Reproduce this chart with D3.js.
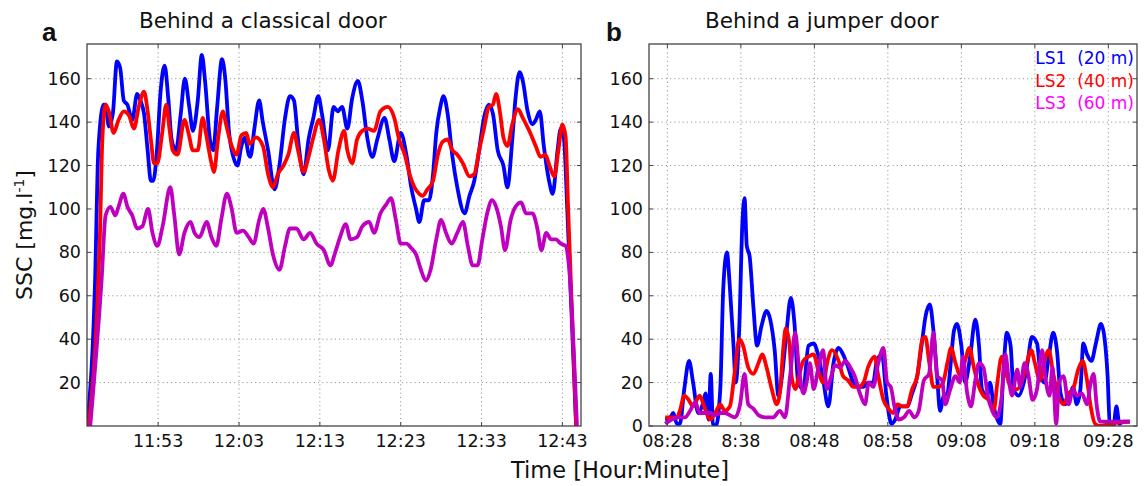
<!DOCTYPE html>
<html>
<head>
<meta charset="utf-8">
<script src="https://cdn.jsdelivr.net/npm/d3@7"></script>
<style>
  body { margin: 0; background: #fff; }
  svg { font-family: "DejaVu Sans", sans-serif; }
  text { white-space: pre; }
</style>
</head>
<body>
<svg id="chart" width="1144" height="486"></svg>
<script>
// minutes after the first labelled tick, SSC value
const tickLabelsA = ["11:53", "12:03", "12:13", "12:23", "12:33", "12:43"];
const tickLabelsB = ["08:28", "8:38", "08:48", "08:58", "09:08", "09:18", "09:28"];
const yTicksA = [20, 40, 60, 80, 100, 120, 140, 160];
const yTicksB = [0, 20, 40, 60, 80, 100, 120, 140, 160];

const classicLS1 = [[-8.8,0],[-7.8,67],[-7.4,127],[-6.75,148],[-6.5,148],[-6.1,138],[-5.6,144],[-5.1,168],[-4.7,165],[-4.25,150],[-3.8,148],[-3.2,141],[-2.6,153],[-2.2,150],[-1.75,144],[-1.3,127],[-0.9,113],[-0.6,113],[-0.15,127],[0.3,154],[0.8,166],[1.25,151],[1.67,132],[2.2,127],[2.8,144],[3.3,160],[3.85,147],[4.3,136],[4.9,150],[5.4,171],[5.8,159],[6.4,132],[6.8,127],[7.3,147],[7.9,169],[8.3,160],[8.75,136],[9.3,124],[9.8,120],[10.3,129],[10.75,133],[11.2,125],[11.4,124],[11.9,137],[12.5,150],[12.9,141],[13.6,127],[14.4,109],[15,120],[15.7,142],[16.3,152],[16.8,150],[17.3,132],[18,116],[18.6,132],[19.2,142],[19.8,152],[20.25,144],[21,127],[21.7,147],[22.2,145],[22.75,147],[23.4,137],[24,151],[24.7,159],[25.25,150],[25.9,132],[26.5,124],[27.1,132],[28,142],[28.6,132],[29.2,122],[30,135],[30.7,125],[31.3,110],[31.9,100],[32.3,94],[32.9,104],[33.5,104],[34,116],[34.4,135],[34.9,147],[35.3,152],[35.8,144],[36.4,124],[37,110],[37.9,98],[38.5,106],[39.1,113],[39.7,127],[40.3,142],[40.9,148],[41.4,144],[42,127],[42.7,120],[43.2,110],[43.8,132],[44.2,151],[44.7,163],[45.1,159],[45.7,145],[46.3,139],[46.7,141],[47.2,145],[47.7,129],[48.4,112],[48.8,107],[49.4,127],[49.8,137],[50.2,132],[50.6,100],[51.7,0]];
const classicLS2 = [[-8.6,0],[-7.4,67],[-7.2,88],[-6.9,132],[-6.5,148],[-6.1,145],[-5.5,135],[-4.9,141],[-4.25,145],[-3.6,143],[-3,137],[-2.4,147],[-1.75,154],[-1.3,145],[-0.9,132],[-0.5,121],[-0.1,121],[0.5,135],[1,148],[1.4,137],[1.8,127],[2.4,125],[3.25,141],[3.75,135],[4.3,127],[4.9,127],[5.5,142],[5.9,135],[6.6,121],[6.9,117],[7.4,132],[8,145],[8.4,139],[9.1,129],[9.7,125],[10.3,134],[10.9,135],[11.3,130],[12.1,133],[12.96,129],[13.6,116],[14.2,110],[14.8,116],[15.5,120],[16.1,125],[16.8,135],[17.3,127],[18,117],[18.6,124],[19.2,133],[19.9,141],[20.5,132],[21.1,118],[21.6,113],[22.3,127],[23,136],[23.4,127],[24,121],[24.6,132],[25.25,136],[25.9,137],[26.7,136],[27.5,145],[28.4,147],[29.2,142],[29.8,132],[30.5,125],[31.1,116],[31.7,110],[32.3,107],[32.7,106],[33.3,109],[34,113],[34.6,125],[35.2,131],[35.8,132],[36.4,127],[37,125],[37.7,121],[38.5,115],[39.1,116],[39.7,127],[40.3,137],[40.9,147],[41.4,148],[41.8,153],[42.3,144],[42.7,133],[43.2,129],[43.8,139],[44.5,146],[45.1,142],[45.9,136],[46.7,129],[47.3,124],[47.9,125],[48.4,120],[49,115],[49.5,127],[50,139],[50.4,133],[50.7,101],[51,71],[51.7,0]];
const classicLS3 = [[-8.4,0],[-7.0,67],[-6.5,97],[-5.9,101],[-5.3,97],[-4.9,101],[-4.3,107],[-3.8,101],[-3.2,97],[-2.6,91],[-1.95,92],[-1.25,100],[-0.7,89],[-0.1,83],[0.55,92],[1.5,110],[2,97],[2.6,79],[3.25,89],[4,94],[4.5,89],[5.1,87],[6,94],[6.6,87],[7.2,83],[7.8,95],[8.5,107],[9.1,100],[9.7,89],[10.5,90],[11.2,87],[11.8,84],[12.5,95],[13,100],[13.6,91],[14.2,79],[15,72],[15.7,83],[16.3,91],[17.1,91],[18,86],[18.8,89],[19.6,84],[20.5,81],[21.3,74],[21.9,80],[22.5,87],[23.2,93],[23.8,86],[24.6,87],[25.25,92],[26.1,94],[26.7,89],[27.5,98],[28.2,102],[28.8,105],[29.4,95],[30,84],[30.7,84],[31.3,82],[31.9,79],[32.5,72],[33.1,67],[33.7,72],[34.4,86],[35,95],[35.6,89],[36.3,84],[37,89],[37.7,94],[38.3,83],[38.9,74],[39.5,74],[40.1,86],[40.7,98],[41.3,104],[41.8,101],[42.4,92],[42.9,81],[43.6,95],[44.2,101],[44.9,103],[45.5,98],[46.3,98],[46.9,91],[47.4,81],[48,89],[48.6,86],[49.2,86],[49.8,84],[50.4,83],[50.8,74],[51.8,0]];

const jumperLS1 = [[-0.3,3],[0.4,4],[0.8,6],[1.3,1],[1.7,1],[2.3,17],[2.95,30],[3.5,20],[4.2,6],[4.8,10],[5.2,15],[5.6,3],[5.9,24],[6.2,1],[6.6,0],[7.2,17],[7.6,63],[8.1,80],[8.5,64],[9,37],[9.3,20],[9.8,47],[10.2,93],[10.5,105],[10.8,83],[11.2,78],[11.7,55],[12.2,37],[12.8,46],[13.5,53],[14,49],[14.6,35],[15.1,14],[15.6,23],[16.2,43],[16.8,59],[17.3,47],[17.8,20],[18.5,17],[19.2,37],[19.9,38],[20.5,33],[21.2,21],[21.9,9],[22.6,29],[23.3,36],[23.9,33],[24.6,27],[25.3,20],[26,18],[26.7,18],[27.3,20],[28,20],[28.5,30],[29.2,33],[29.8,14],[30.5,1],[31,3],[31.7,9],[32.6,9],[33.3,15],[34,23],[34.7,40],[35.1,50],[35.7,56],[36.2,44],[36.7,23],[37.1,7],[37.6,14],[38.1,15],[38.5,27],[39,44],[39.4,47],[40,37],[40.5,20],[41.2,32],[41.9,49],[42.4,37],[42.8,17],[43.5,14],[43.9,20],[44.4,9],[44.9,3],[45.3,1],[45.7,24],[46.2,43],[46.7,37],[47.1,17],[47.8,14],[48.5,20],[49,29],[49.6,41],[50.3,38],[50.8,23],[51.3,20],[51.9,32],[52.5,43],[53,35],[53.5,15],[54.1,10],[54.8,14],[55.2,18],[55.7,10],[56.2,17],[56.6,38],[57.1,33],[57.7,30],[58.3,38],[59,47],[59.5,40],[59.9,23],[60.2,1],[60.7,0],[61.1,9],[61.5,1],[62,2],[62.9,2]];
const jumperLS2 = [[-0.3,4],[0.6,4],[1.3,4],[1.7,7],[2.3,14],[2.9,12],[3.5,9],[4,12],[4.4,14],[5,9],[5.8,3],[6.5,6],[7.2,10],[7.8,7],[8.5,9],[9.1,23],[9.8,40],[10.3,37],[11,27],[11.7,24],[12.4,29],[12.9,33],[13.5,27],[14.2,17],[14.9,10],[15.3,15],[15.8,37],[16.1,45],[16.6,38],[16.9,23],[17.4,17],[17.9,23],[18.5,30],[19.2,32],[19.9,33],[20.5,26],[21.2,20],[21.8,30],[22.4,35],[23.3,30],[23.9,23],[24.6,21],[25.3,18],[26,18],[26.7,20],[27.3,27],[28.2,32],[28.7,23],[29.4,12],[30.1,8],[30.7,6],[31.3,10],[32,9],[32.6,9],[33.3,17],[34,23],[34.7,40],[35.1,41],[35.6,30],[36.2,18],[36.9,18],[37.5,20],[38.1,29],[38.6,36],[39.2,29],[39.9,23],[40.5,30],[41.1,36],[41.7,27],[42.4,18],[43,14],[43.7,12],[44.4,7],[44.9,20],[45.5,32],[46.2,23],[46.9,17],[47.6,17],[48.2,20],[48.9,29],[49.5,35],[50,29],[50.7,21],[51.3,30],[51.9,35],[52.5,24],[53.2,14],[53.9,10],[54.6,15],[55.2,17],[55.9,26],[56.5,30],[57.1,21],[57.6,9],[58.2,1],[58.9,0],[60.2,1],[62.9,2]];
const jumperLS3 = [[-0.3,1],[0.6,3],[1.5,4],[2.4,4],[3.1,7],[3.8,11],[4.4,6],[5.1,6],[5.8,6],[6.5,5],[7.2,6],[7.8,6],[8.5,5],[9.2,4],[9.9,10],[10.5,24],[11,10],[11.7,8],[12.4,5],[13.3,4],[14.4,4],[15.3,7],[16,4],[16.7,23],[17.4,43],[17.9,27],[18.5,15],[19,21],[19.4,29],[19.9,17],[20.5,26],[21.2,35],[21.7,17],[22.3,23],[22.8,28],[23.5,27],[24.2,30],[24.9,27],[25.5,23],[26.2,15],[26.9,10],[27.4,20],[28,18],[28.7,29],[29.4,36],[29.9,20],[30.4,18],[30.9,9],[31.5,3],[32.2,4],[32.9,7],[33.6,4],[34.2,7],[34.9,21],[35.6,24],[36.2,43],[36.7,23],[37.4,21],[37.8,10],[38.5,17],[39.2,23],[39.8,20],[40.2,32],[40.8,15],[41.3,9],[41.9,21],[42.4,29],[43,27],[43.6,14],[44.2,7],[44.8,4],[45.5,14],[46,33],[46.4,23],[46.9,14],[47.6,26],[48,18],[48.6,29],[49.1,24],[49.7,12],[50.3,17],[51,35],[51.4,23],[52,14],[52.4,27],[52.9,1],[53.3,20],[53.9,23],[54.6,10],[55.2,17],[55.7,14],[56.4,15],[57.1,10],[57.5,18],[58,24],[58.4,10],[58.9,2],[60.2,2],[62.9,2]];

const legendLabels = ["LS1  (20 m)", "LS2  (40 m)", "LS3  (60 m)"];
const lineColors = ["#0000ff", "#ff0000", "#bf00bf"];
const legendColors = ["#0000ff", "#ff0000", "#ff00ff"];

const svg = d3.select("#chart");
const plotTop = 44, plotBottom = 426;

const panels = [
  { id: "a", title: "Behind a classical door", x0: 87, x1: 581, dom: [-8.8, 52.3],
    ticks: tickLabelsA, yTicks: yTicksA, series: [classicLS1, classicLS2, classicLS3],
    titleX: 139, letterX: 42, legend: false },
  { id: "b", title: "Behind a jumper door", x0: 649, x1: 1137, dom: [-2.5, 63.9],
    ticks: tickLabelsB, yTicks: yTicksB, series: [jumperLS1, jumperLS2, jumperLS3],
    titleX: 705, letterX: 606, legend: true }
];

panels.forEach((p, pi) => {
  const x = d3.scaleLinear().domain(p.dom).range([p.x0, p.x1]);
  const y = d3.scaleLinear().domain([0, 176]).range([plotBottom, plotTop]);
  const tickVals = p.ticks.map((d, i) => i * 10);
  const g = svg.append("g");

  g.append("clipPath").attr("id", "clip" + pi)
    .append("rect").attr("x", p.x0).attr("y", plotTop)
    .attr("width", p.x1 - p.x0).attr("height", plotBottom - plotTop);

  // grid
  g.append("g").selectAll("line").data(tickVals).enter().append("line")
    .attr("x1", d => x(d)).attr("x2", d => x(d)).attr("y1", plotTop).attr("y2", plotBottom)
    .attr("stroke", "#9a9a9a").attr("stroke-width", 1).attr("stroke-dasharray", "1.2,3");
  g.append("g").selectAll("line").data(p.yTicks.filter(d => d > 0)).enter().append("line")
    .attr("x1", p.x0).attr("x2", p.x1).attr("y1", d => y(d)).attr("y2", d => y(d))
    .attr("stroke", "#9a9a9a").attr("stroke-width", 1).attr("stroke-dasharray", "1.2,3");

  // lines
  const line = d3.line().x(d => x(d[0])).y(d => y(d[1])).curve(d3.curveMonotoneX);
  g.append("g").attr("clip-path", `url(#clip${pi})`)
    .selectAll("path").data(p.series).enter().append("path")
    .attr("d", line).attr("fill", "none")
    .attr("stroke", (d, i) => lineColors[i]).attr("stroke-width", 3.8)
    .attr("stroke-linejoin", "round");

  // frame
  g.append("rect").attr("x", p.x0).attr("y", plotTop)
    .attr("width", p.x1 - p.x0).attr("height", plotBottom - plotTop)
    .attr("fill", "none").attr("stroke", "#444").attr("stroke-width", 1.3);

  // inward ticks
  const tk = g.append("g").attr("stroke", "#444").attr("stroke-width", 1);
  tickVals.forEach(v => {
    tk.append("line").attr("x1", x(v)).attr("x2", x(v)).attr("y1", plotBottom).attr("y2", plotBottom - 4);
    tk.append("line").attr("x1", x(v)).attr("x2", x(v)).attr("y1", plotTop).attr("y2", plotTop + 4);
  });
  p.yTicks.forEach(v => {
    tk.append("line").attr("x1", p.x0).attr("x2", p.x0 + 4).attr("y1", y(v)).attr("y2", y(v));
    tk.append("line").attr("x1", p.x1).attr("x2", p.x1 - 4).attr("y1", y(v)).attr("y2", y(v));
  });

  // tick labels
  g.append("g").selectAll("text").data(p.ticks).enter().append("text")
    .attr("x", (d, i) => x(i * 10)).attr("y", plotBottom + 21)
    .attr("text-anchor", "middle").attr("font-size", 17.5).attr("fill", "#111")
    .text(d => d);
  g.append("g").selectAll("text").data(p.yTicks).enter().append("text")
    .attr("x", p.x0 - 6).attr("y", d => y(d) + 6)
    .attr("text-anchor", "end").attr("font-size", 17.5).attr("fill", "#111")
    .text(d => d);

  // titles
  g.append("text").attr("x", p.titleX).attr("y", 28)
    .attr("font-size", 21.5).attr("fill", "#111").text(p.title);
  g.append("text").attr("x", p.letterX).attr("y", 41)
    .attr("font-family", "Liberation Sans, Arial, sans-serif")
    .attr("font-weight", "bold").attr("font-size", 26).attr("fill", "#111").text(p.id);

  if (p.legend) {
    g.append("g").selectAll("text").data(legendLabels).enter().append("text")
      .attr("x", p.x1 - 3).attr("y", (d, i) => 64 + i * 22.5)
      .attr("text-anchor", "end").attr("font-size", 17)
      .attr("fill", (d, i) => legendColors[i]).text(d => d);
  }
});

// axis labels
const yl = svg.append("text")
  .attr("transform", "translate(32,235) rotate(-90)")
  .attr("text-anchor", "middle").attr("font-size", 22).attr("fill", "#111");
yl.append("tspan").text("SSC [mg.l");
yl.append("tspan").attr("font-size", 14).attr("dy", -8).text("-1");
yl.append("tspan").attr("dy", 8).text("]");

svg.append("text").attr("x", 620).attr("y", 478)
  .attr("text-anchor", "middle").attr("font-size", 22.5).attr("fill", "#111")
  .text("Time [Hour:Minute]");
</script>
</body>
</html>
